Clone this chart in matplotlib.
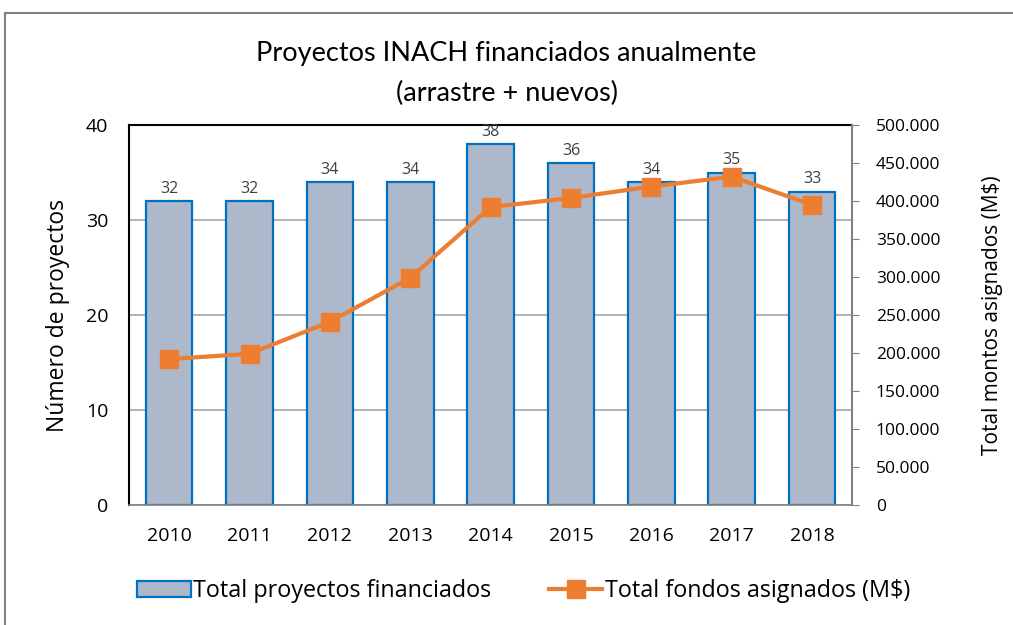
import matplotlib
matplotlib.use("Agg")
import matplotlib.pyplot as plt
from matplotlib.patches import Rectangle, Patch
from matplotlib.lines import Line2D
from matplotlib.ticker import FuncFormatter

years = ["2010", "2011", "2012", "2013", "2014", "2015", "2016", "2017", "2018"]
proyectos = [32, 32, 34, 34, 38, 36, 34, 35, 33]
fondos = [192000, 199000, 241000, 299000, 392000, 404000, 419000, 432000, 395000]

plt.rcParams['font.family'] = ['Open Sans', 'DejaVu Sans']

fig = plt.figure(figsize=(10.13, 6.25), dpi=100)
ax = fig.add_axes([0.1273, 0.192, 0.714, 0.608])
ax2 = ax.twinx()

x = list(range(len(years)))
ax.bar(x, proyectos, width=0.58, color="#ADB9CA", edgecolor="#0070C0", linewidth=1.6, zorder=2)
for xi, v in zip(x, proyectos):
    ax2.text(xi, (v + 0.45) * 12500, str(v), ha="center", va="bottom", fontsize=11.5,
             color="#404040", zorder=10, clip_on=False)

ax2.plot(x, fondos, color="#ED7D31", linewidth=3, marker="s", markersize=13, zorder=3)

ax.set_xlim(-0.5, len(years) - 0.5)
ax.set_ylim(0, 40)
ax.set_yticks([0, 10, 20, 30, 40])
ax2.set_ylim(0, 500000)
ax2.set_yticks(range(0, 500001, 50000))
ax2.yaxis.set_major_formatter(FuncFormatter(lambda v, p: f"{int(v):,}".replace(",", ".")))

ax.set_xticks(x)
ax.set_xticklabels(years)
ax.yaxis.grid(True, color="#A6A6A6", linewidth=1.2, zorder=0)
ax.set_axisbelow(True)

ax.tick_params(axis="y", length=0, labelsize=14, pad=15, colors="black")
ax.tick_params(axis="x", length=0, labelsize=14, pad=16)
ax2.tick_params(axis="y", length=5, direction="out", color="#808080", labelsize=12.5, pad=12)

for sp in ["left", "top"]:
    ax.spines[sp].set_color("black")
    ax.spines[sp].set_linewidth(1.5)
ax.spines["bottom"].set_color("#808080")
ax.spines["bottom"].set_linewidth(1.2)
ax.spines["right"].set_visible(False)
ax2.spines["right"].set_color("#808080")
ax2.spines["right"].set_linewidth(1.5)
for sp in ["left", "top", "bottom"]:
    ax2.spines[sp].set_visible(False)

ax.set_ylabel("Número de proyectos", fontsize=16.5, labelpad=11)
ax2.set_ylabel("Total montos asignados (M$)", fontsize=15, labelpad=30)

fig.text(0.5, 0.915, "Proyectos INACH financiados anualmente", ha="center", va="center",
         fontsize=19.5, family=["Lato", "DejaVu Sans"])
fig.text(0.5, 0.851, "(arrastre + nuevos)", ha="center", va="center",
         fontsize=19.5, family=["Lato", "DejaVu Sans"])

handles = [Patch(facecolor="#ADB9CA", edgecolor="#0070C0", linewidth=1.6),
           Line2D([0], [0], color="#ED7D31", linewidth=3, marker="s", markersize=13)]
fig.legend(handles, ["Total proyectos financiados", "Total fondos asignados (M$)"],
           loc="center", bbox_to_anchor=(0.517, 0.054), ncol=2, frameon=False,
           fontsize=16.8, handlelength=2.3, handletextpad=0.1, columnspacing=2.45)

fig.patches.append(Rectangle((0.005, -0.05), 1.1, 1.03, transform=fig.transFigure,
                             fill=False, edgecolor="#808080", linewidth=1.5))

fig.savefig("out.png", dpi=100)
